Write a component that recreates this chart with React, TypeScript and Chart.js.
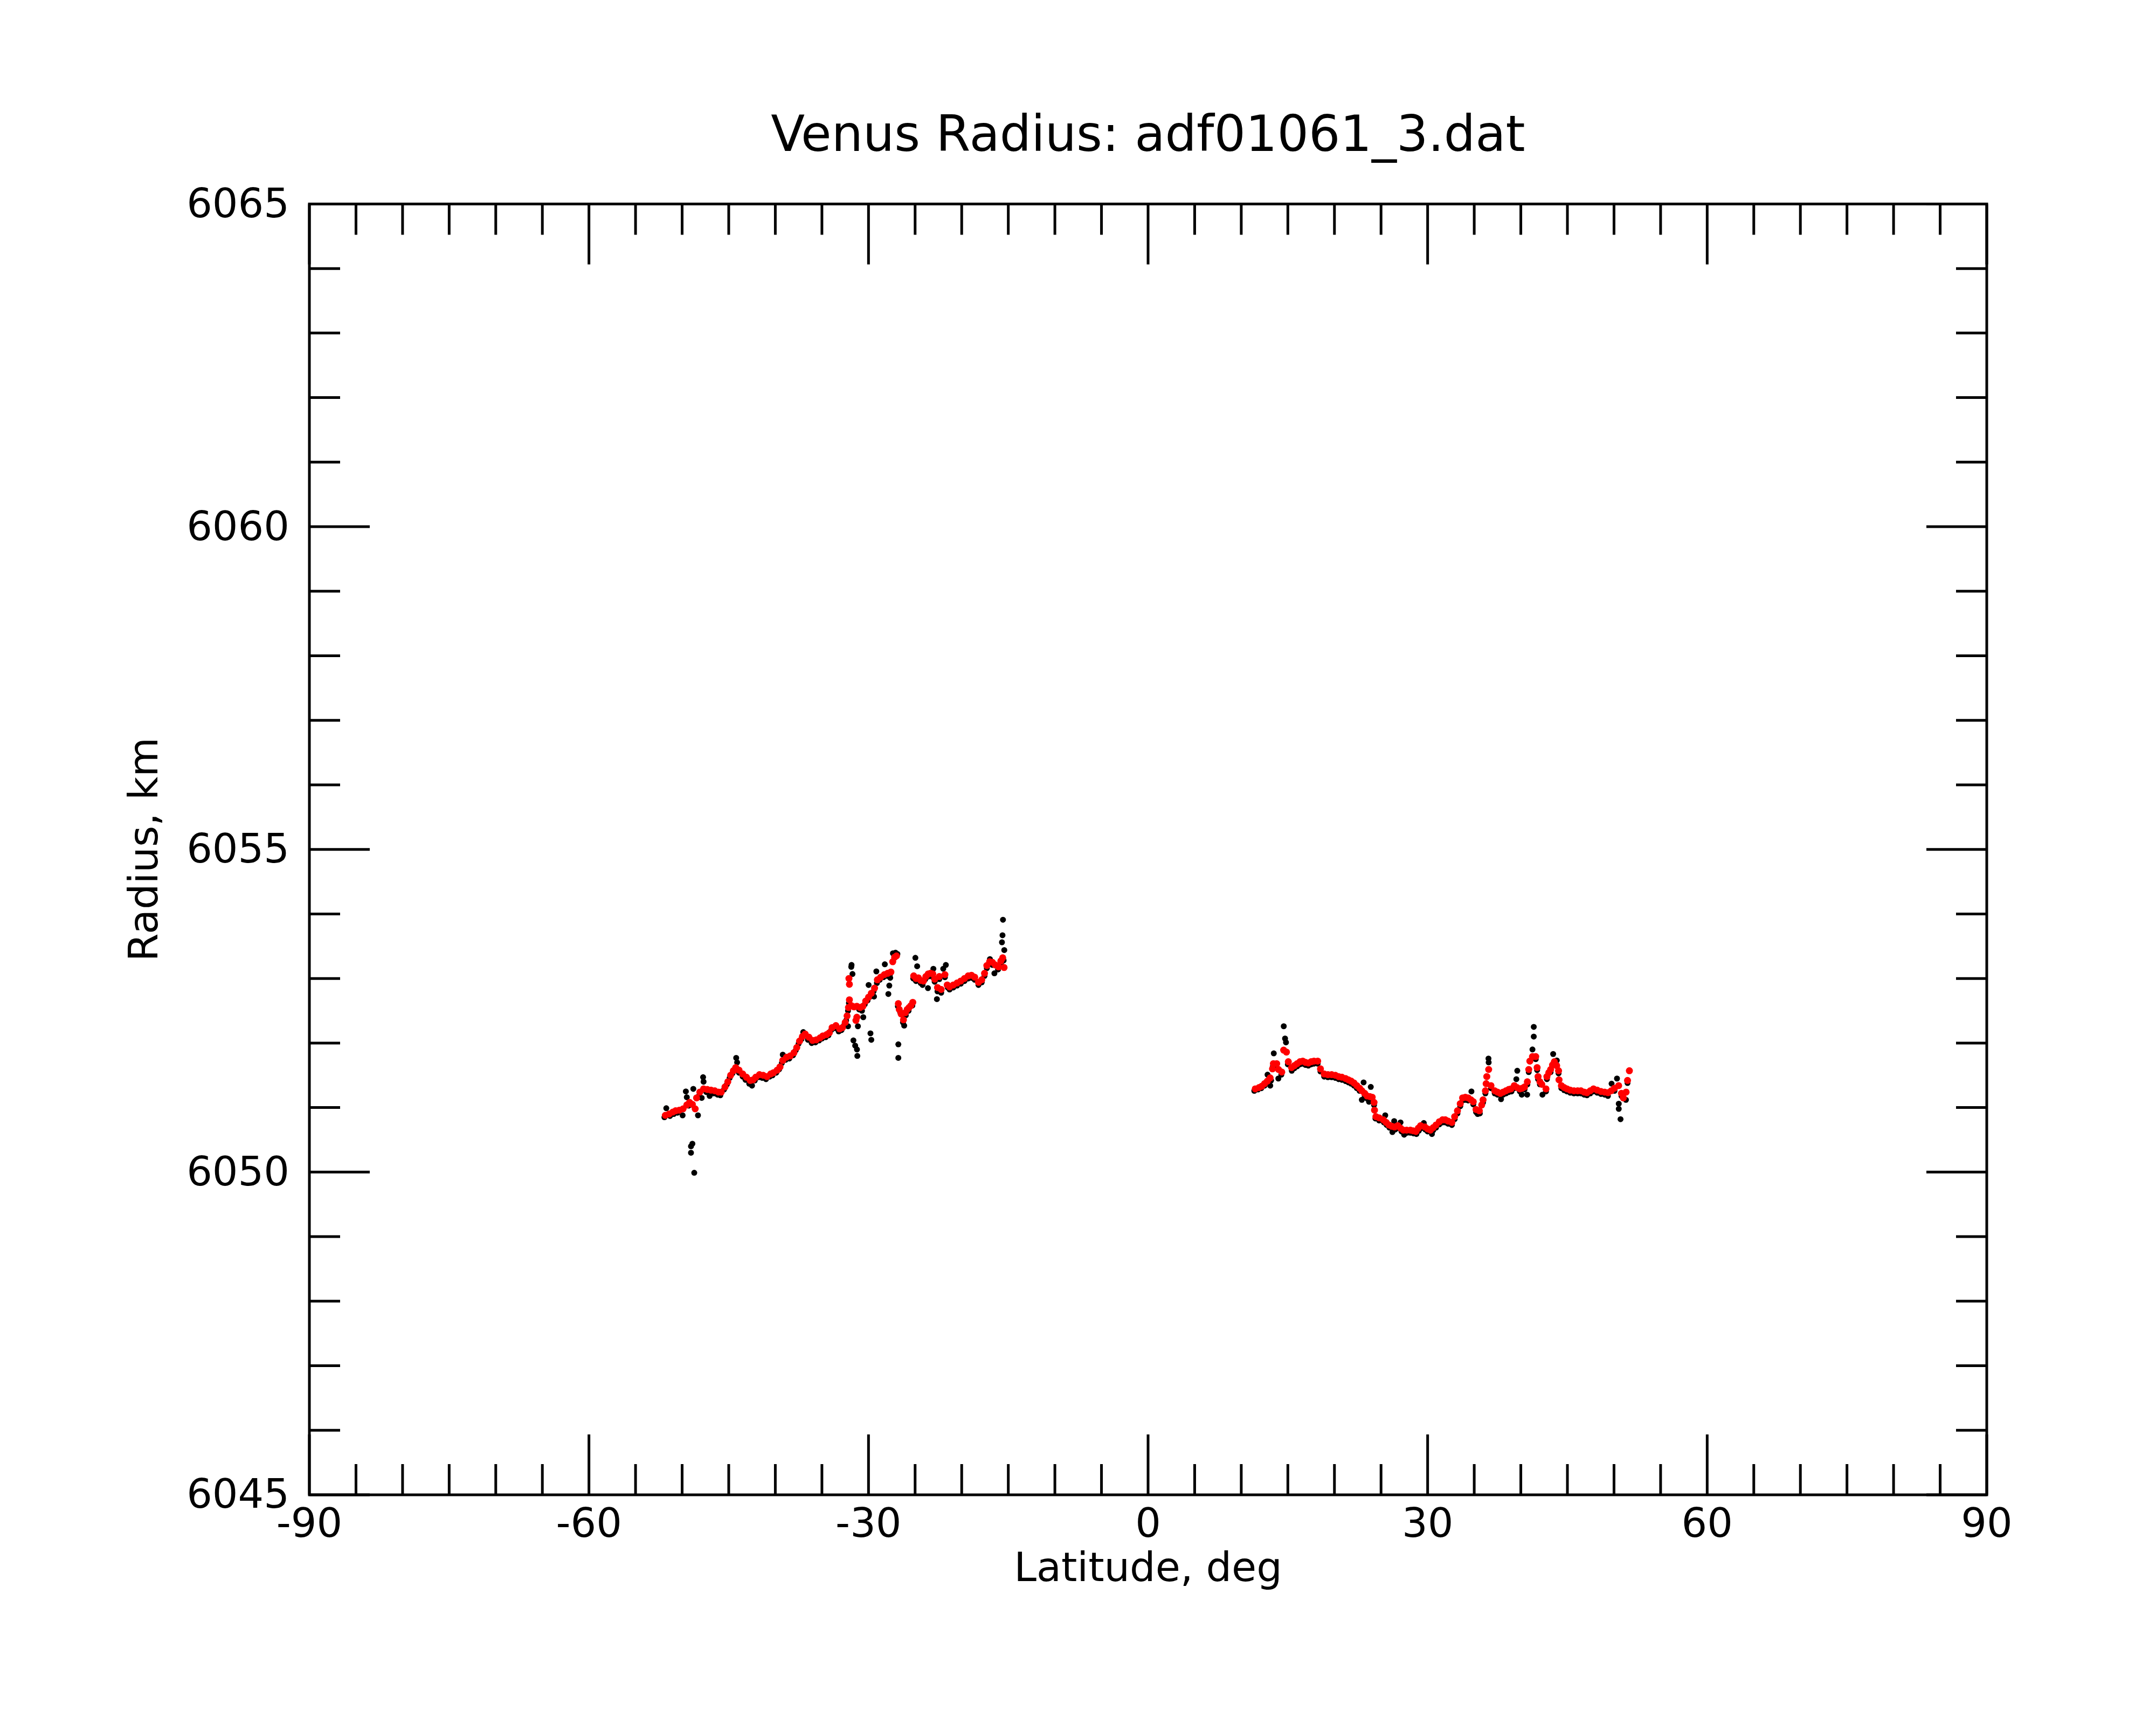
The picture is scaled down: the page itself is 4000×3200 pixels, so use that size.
import { useEffect, useRef } from "react";
import { Chart, registerables } from "chart.js";

Chart.register(...registerables);

const chartTitle = "Venus Radius: adf01061_3.dat";
const xTitle = "Latitude, deg";
const yTitle = "Radius, km";
const latTicks = [-90, -60, -30, 0, 30, 60, 90];
const radTicks = [6045, 6050, 6055, 6060, 6065];
const latMinorStep = 5;
const radMinorStep = 1;

// smoothed radius (red), southern arc: [latitude, radius km]
const smoothSouth: [number, number][] = [
    [-51.8, 6050.88], [-51.4, 6050.90], [-51.0, 6050.93], [-50.7, 6050.95], [-50.3, 6050.96],
    [-49.9, 6050.98], [-49.5, 6051.04], [-49.2, 6051.08], [-48.9, 6051.05], [-48.6, 6050.98],
    [-48.45, 6051.15], [-48.1, 6051.24], [-47.7, 6051.29], [-47.3, 6051.28], [-46.9, 6051.27],
    [-46.5, 6051.26], [-46.1, 6051.24], [-45.8, 6051.24], [-45.4, 6051.32], [-45.1, 6051.40],
    [-44.8, 6051.50], [-44.5, 6051.57], [-44.25, 6051.62], [-43.9, 6051.58], [-43.5, 6051.52],
    [-43.1, 6051.47], [-42.7, 6051.42], [-42.4, 6051.43], [-42.1, 6051.47], [-41.7, 6051.51],
    [-41.3, 6051.50], [-40.9, 6051.48], [-40.5, 6051.52], [-40.2, 6051.54], [-39.8, 6051.58],
    [-39.5, 6051.63], [-39.2, 6051.73], [-38.8, 6051.78], [-38.4, 6051.80], [-38.0, 6051.85],
    [-37.7, 6051.93], [-37.4, 6052.03], [-37.1, 6052.10], [-36.8, 6052.14], [-36.4, 6052.09],
    [-36.0, 6052.04], [-35.6, 6052.05], [-35.2, 6052.08], [-34.9, 6052.11], [-34.5, 6052.13],
    [-34.2, 6052.16], [-33.9, 6052.24], [-33.5, 6052.27], [-33.1, 6052.22], [-32.8, 6052.24],
    [-32.5, 6052.32], [-32.3, 6052.42], [-32.15, 6052.55], [-32.05, 6052.67], [-31.85, 6052.58],
    [-31.55, 6052.56], [-31.25, 6052.57], [-30.9, 6052.55], [-30.6, 6052.57], [-30.3, 6052.65],
    [-30.0, 6052.71], [-29.7, 6052.77], [-29.35, 6052.85], [-29.05, 6052.98], [-28.7, 6053.02],
    [-28.3, 6053.06], [-27.95, 6053.08], [-27.6, 6053.10], [-32.1, 6053.00], [-32.05, 6052.91],
    [-31.35, 6052.35], [-31.25, 6052.40], [-27.4, 6053.26], [-27.2, 6053.33], [-27.0, 6053.35],
    [-26.8, 6052.61], [-26.7, 6052.52], [-26.5, 6052.45], [-26.25, 6052.36], [-26.05, 6052.47],
    [-25.85, 6052.52], [-25.65, 6052.55], [-25.45, 6052.58], [-25.25, 6052.63], [-25.15, 6053.04],
    [-24.9, 6053.00], [-24.65, 6053.01], [-24.4, 6052.97], [-24.1, 6052.96], [-23.85, 6053.03],
    [-23.6, 6053.07], [-23.35, 6053.08], [-23.1, 6053.07], [-22.9, 6052.99], [-22.6, 6052.86],
    [-22.4, 6053.03], [-22.2, 6052.83], [-21.8, 6053.06], [-21.55, 6052.90], [-21.3, 6052.87],
    [-20.9, 6052.90], [-20.5, 6052.93], [-20.1, 6052.96], [-19.7, 6053.00], [-19.3, 6053.04],
    [-18.95, 6053.05], [-18.6, 6053.02], [-18.2, 6052.94], [-17.85, 6052.98], [-17.55, 6053.08],
    [-17.3, 6053.20], [-17.0, 6053.26], [-16.7, 6053.25], [-16.4, 6053.21], [-16.05, 6053.18],
    [-15.8, 6053.27], [-15.6, 6053.32], [-15.45, 6053.17],
];

// smoothed radius (red), northern arc
const smoothNorth: [number, number][] = [
    [11.5, 6051.29], [11.9, 6051.31], [12.2, 6051.33], [12.5, 6051.37], [12.8, 6051.41],
    [13.1, 6051.46], [13.35, 6051.60], [13.45, 6051.68], [13.8, 6051.68], [14.0, 6051.59],
    [14.35, 6051.55], [14.55, 6051.89], [14.85, 6051.86], [15.05, 6051.71], [15.4, 6051.62],
    [15.7, 6051.65], [16.0, 6051.68], [16.3, 6051.71], [16.6, 6051.72], [16.9, 6051.70],
    [17.2, 6051.69], [17.5, 6051.71], [17.8, 6051.72], [18.2, 6051.72], [18.5, 6051.60],
    [18.9, 6051.52], [19.3, 6051.51], [19.7, 6051.51], [20.1, 6051.50], [20.45, 6051.48],
    [20.8, 6051.47], [21.2, 6051.45], [21.5, 6051.43], [21.8, 6051.41], [22.1, 6051.38],
    [22.4, 6051.34], [22.7, 6051.30], [22.95, 6051.26], [23.25, 6051.22], [23.5, 6051.18],
    [23.8, 6051.17], [24.05, 6051.16], [24.25, 6051.08], [24.3, 6050.96], [24.45, 6050.86],
    [24.8, 6050.84], [25.25, 6050.81], [25.55, 6050.77], [25.85, 6050.73], [26.15, 6050.71],
    [26.45, 6050.70], [26.8, 6050.72], [27.1, 6050.68], [27.4, 6050.65], [27.75, 6050.65],
    [28.15, 6050.65], [28.45, 6050.64], [28.75, 6050.63], [29.0, 6050.68], [29.25, 6050.72],
    [29.7, 6050.70], [30.0, 6050.67], [30.3, 6050.65], [30.6, 6050.69], [30.9, 6050.73],
    [31.25, 6050.78], [31.6, 6050.81], [31.9, 6050.81], [32.2, 6050.79], [32.6, 6050.77],
    [32.9, 6050.86], [33.2, 6050.95], [33.5, 6051.06], [33.75, 6051.15], [34.05, 6051.16],
    [34.35, 6051.15], [34.65, 6051.12], [34.9, 6051.09], [35.2, 6050.97], [35.55, 6050.95],
    [35.8, 6051.04], [35.95, 6051.12], [36.2, 6051.26], [36.28, 6051.37], [36.35, 6051.48],
    [36.55, 6051.59], [36.8, 6051.34], [37.2, 6051.26], [37.5, 6051.24], [37.8, 6051.22],
    [38.1, 6051.24], [38.4, 6051.26], [38.7, 6051.28], [38.95, 6051.29], [39.3, 6051.34],
    [39.6, 6051.31], [39.9, 6051.29], [40.15, 6051.30], [40.4, 6051.32], [40.7, 6051.40],
    [40.85, 6051.59], [40.97, 6051.72], [41.25, 6051.79], [41.6, 6051.79], [41.75, 6051.62],
    [41.85, 6051.48], [42.05, 6051.40], [42.25, 6051.36], [42.7, 6051.29], [42.8, 6051.48],
    [43.0, 6051.54], [43.2, 6051.59], [43.4, 6051.66], [43.6, 6051.71], [43.85, 6051.65],
    [44.05, 6051.57], [44.1, 6051.43], [44.35, 6051.34], [44.65, 6051.31], [44.95, 6051.29],
    [45.3, 6051.27], [45.7, 6051.26], [46.1, 6051.26], [46.45, 6051.26], [46.8, 6051.24],
    [47.1, 6051.23], [47.45, 6051.26], [47.8, 6051.29], [48.2, 6051.27], [48.6, 6051.25],
    [49.0, 6051.24], [49.35, 6051.23], [49.7, 6051.26], [50.05, 6051.30], [50.5, 6051.34],
    [50.8, 6051.22], [51.0, 6051.15], [51.3, 6051.24], [51.45, 6051.42], [51.65, 6051.57],
];

// raw radius samples (black), southern arc
const rawSouth: [number, number][] = [
    [-51.9, 6050.85], [-51.7, 6050.99], [-51.3, 6050.87], [-50.9, 6050.90], [-50.5, 6050.92],
    [-49.95, 6050.88], [-49.6, 6051.25], [-49.5, 6051.16], [-49.3, 6051.03], [-49.05, 6050.40],
    [-49.05, 6050.30], [-48.9, 6050.44], [-48.8, 6051.29], [-48.7, 6049.99], [-48.3, 6050.88],
    [-48.2, 6051.18], [-47.9, 6051.15], [-47.75, 6051.47], [-47.7, 6051.40], [-47.4, 6051.24],
    [-47.05, 6051.18], [-46.6, 6051.22], [-46.2, 6051.20], [-45.9, 6051.19], [-45.5, 6051.28],
    [-45.2, 6051.36], [-44.9, 6051.46], [-44.6, 6051.53], [-44.2, 6051.77], [-44.1, 6051.70],
    [-43.9, 6051.54], [-43.5, 6051.48], [-43.2, 6051.43], [-42.8, 6051.37], [-42.5, 6051.34],
    [-42.2, 6051.42], [-41.8, 6051.47], [-41.4, 6051.46], [-41.0, 6051.44], [-40.6, 6051.48],
    [-40.3, 6051.50], [-39.9, 6051.54], [-39.6, 6051.59], [-39.2, 6051.82], [-39.3, 6051.69],
    [-38.9, 6051.74], [-38.5, 6051.76], [-38.1, 6051.81], [-37.8, 6051.89], [-37.5, 6051.99],
    [-37.2, 6052.06], [-37.0, 6052.17], [-36.5, 6052.05], [-36.1, 6052.00], [-35.7, 6052.01],
    [-35.3, 6052.04], [-35.0, 6052.07], [-34.6, 6052.09], [-34.3, 6052.12], [-34.0, 6052.20],
    [-33.6, 6052.23], [-33.2, 6052.18], [-32.9, 6052.20], [-32.6, 6052.28], [-32.4, 6052.35],
    [-32.2, 6052.26], [-32.2, 6052.50], [-32.1, 6052.62], [-31.82, 6053.21], [-31.85, 6053.18],
    [-31.72, 6053.07], [-31.62, 6052.04], [-31.43, 6051.96], [-31.24, 6051.90], [-31.2, 6051.80],
    [-31.14, 6052.26], [-31.0, 6052.52], [-30.7, 6052.50], [-30.56, 6052.40], [-30.4, 6052.60],
    [-30.1, 6052.66], [-29.99, 6052.90], [-29.79, 6052.15], [-29.7, 6052.05], [-29.8, 6052.72],
    [-29.41, 6052.72], [-29.45, 6052.80], [-29.16, 6053.11], [-29.1, 6052.93], [-28.8, 6052.98],
    [-28.4, 6053.02], [-28.25, 6053.22], [-28.0, 6053.04], [-27.87, 6052.76], [-27.77, 6052.89],
    [-27.67, 6053.01], [-27.7, 6053.06], [-27.38, 6053.39], [-27.1, 6053.40], [-26.9, 6053.38],
    [-26.85, 6052.57], [-26.8, 6051.98], [-26.8, 6051.77], [-26.6, 6052.48], [-26.3, 6052.32],
    [-26.17, 6052.27], [-26.0, 6052.43], [-25.7, 6052.50], [-25.3, 6052.58], [-25.2, 6053.00],
    [-24.97, 6053.32], [-24.78, 6053.19], [-24.9, 6052.96], [-24.6, 6052.97], [-24.4, 6052.93],
    [-24.2, 6052.90], [-23.9, 6052.99], [-23.62, 6052.85], [-23.6, 6053.03], [-23.4, 6053.04],
    [-23.04, 6053.15], [-23.1, 6053.02], [-22.9, 6052.95], [-22.66, 6052.68], [-22.6, 6052.80],
    [-22.4, 6052.99], [-22.2, 6052.78], [-21.98, 6053.15], [-21.7, 6053.21], [-21.8, 6053.02],
    [-21.5, 6052.86], [-21.3, 6052.83], [-20.9, 6052.86], [-20.5, 6052.89], [-20.1, 6052.92],
    [-19.7, 6052.96], [-19.3, 6053.00], [-18.95, 6053.01], [-18.6, 6052.98], [-18.2, 6052.90],
    [-17.85, 6052.94], [-17.55, 6053.04], [-17.3, 6053.16], [-16.97, 6053.30], [-16.7, 6053.21],
    [-16.49, 6053.08], [-16.1, 6053.14], [-15.8, 6053.23], [-15.68, 6053.56], [-15.62, 6053.67],
    [-15.57, 6053.91], [-15.43, 6053.44], [-15.5, 6053.28],
];

// raw radius samples (black), northern arc
const rawNorth: [number, number][] = [
    [11.4, 6051.26], [11.8, 6051.28], [12.15, 6051.30], [12.5, 6051.34], [12.82, 6051.51],
    [13.11, 6051.34], [13.2, 6051.42], [13.49, 6051.84], [13.4, 6051.64], [13.75, 6051.64],
    [13.98, 6051.45], [14.3, 6051.51], [14.56, 6052.26], [14.7, 6052.07], [14.8, 6052.01],
    [15.0, 6051.67], [15.42, 6051.57], [15.7, 6051.61], [16.0, 6051.64], [16.3, 6051.67],
    [16.6, 6051.68], [16.9, 6051.66], [17.2, 6051.65], [17.5, 6051.67], [17.8, 6051.68],
    [18.2, 6051.68], [18.5, 6051.56], [18.9, 6051.48], [19.3, 6051.47], [19.7, 6051.47],
    [20.1, 6051.46], [20.45, 6051.44], [20.8, 6051.43], [21.2, 6051.41], [21.5, 6051.39],
    [21.8, 6051.37], [22.1, 6051.34], [22.4, 6051.30], [22.7, 6051.26], [22.94, 6051.12],
    [23.13, 6051.39], [23.25, 6051.18], [23.5, 6051.14], [23.71, 6051.09], [23.9, 6051.32],
    [24.05, 6051.12], [24.25, 6051.04], [24.4, 6050.83], [24.8, 6050.80], [25.45, 6050.88],
    [25.3, 6050.77], [25.6, 6050.73], [25.9, 6050.69], [26.22, 6050.62], [26.41, 6050.79],
    [26.5, 6050.66], [26.8, 6050.68], [27.09, 6050.77], [27.2, 6050.63], [27.48, 6050.58],
    [27.8, 6050.61], [28.15, 6050.61], [28.5, 6050.60], [28.8, 6050.59], [29.05, 6050.64],
    [29.3, 6050.68], [29.59, 6050.76], [29.75, 6050.66], [30.0, 6050.63], [30.46, 6050.59],
    [30.6, 6050.65], [30.9, 6050.69], [31.25, 6050.74], [31.6, 6050.77], [31.9, 6050.77],
    [32.2, 6050.75], [32.6, 6050.73], [32.9, 6050.82], [33.2, 6050.91], [33.5, 6051.02],
    [33.75, 6051.11], [34.05, 6051.12], [34.35, 6051.11], [34.7, 6051.25], [34.9, 6051.05],
    [35.2, 6050.93], [35.37, 6050.90], [35.6, 6050.91], [35.95, 6051.08], [36.2, 6051.22],
    [36.53, 6051.76], [36.55, 6051.70], [36.8, 6051.30], [37.2, 6051.22], [37.5, 6051.20],
    [37.88, 6051.13], [38.1, 6051.20], [38.4, 6051.22], [38.7, 6051.24], [39.0, 6051.25],
    [39.3, 6051.30], [39.52, 6051.44], [39.62, 6051.57], [39.9, 6051.25], [40.1, 6051.20],
    [40.4, 6051.28], [40.68, 6051.20], [40.7, 6051.36], [40.85, 6051.55], [41.25, 6051.90],
    [41.39, 6052.10], [41.39, 6052.25], [41.6, 6051.75], [41.75, 6051.58], [41.85, 6051.44],
    [42.05, 6051.36], [42.32, 6051.20], [42.7, 6051.25], [42.8, 6051.44], [43.2, 6051.55],
    [43.47, 6051.83], [43.6, 6051.67], [43.86, 6051.73], [44.05, 6051.53], [44.35, 6051.30],
    [44.65, 6051.27], [44.95, 6051.25], [45.3, 6051.23], [45.7, 6051.22], [46.1, 6051.22],
    [46.45, 6051.22], [46.8, 6051.20], [47.1, 6051.19], [47.45, 6051.22], [47.8, 6051.25],
    [48.2, 6051.23], [48.6, 6051.21], [49.0, 6051.20], [49.35, 6051.18], [49.74, 6051.37],
    [50.05, 6051.26], [50.32, 6051.45], [50.51, 6051.06], [50.51, 6050.98], [50.7, 6050.82],
    [50.8, 6051.18], [51.28, 6051.12], [51.45, 6051.38],
];

const FONT = "DejaVu Sans";

const toPoints = (rows: [number, number][]) => rows.map(([x, y]) => ({ x, y }));

// inward tick marks on all four sides plus the box around the plot
const frameTicks = {
    id: "frameTicks",
    afterDraw(chart: any) {
        const { ctx, chartArea: a, scales } = chart;
        const xs = scales.x;
        const ys = scales.y;
        const major = 112;
        const minor = 57;
        ctx.save();
        ctx.strokeStyle = "#000";
        ctx.lineWidth = 5;
        ctx.beginPath();
        for (let v = xs.min; v <= xs.max; v += latMinorStep) {
            const px = xs.getPixelForValue(v);
            const len = latTicks.includes(v) ? major : minor;
            ctx.moveTo(px, a.bottom);
            ctx.lineTo(px, a.bottom - len);
            ctx.moveTo(px, a.top);
            ctx.lineTo(px, a.top + len);
        }
        for (let v = ys.min; v <= ys.max; v += radMinorStep) {
            const py = ys.getPixelForValue(v);
            const len = radTicks.includes(v) ? major : minor;
            ctx.moveTo(a.left, py);
            ctx.lineTo(a.left + len, py);
            ctx.moveTo(a.right, py);
            ctx.lineTo(a.right - len, py);
        }
        ctx.stroke();
        ctx.strokeRect(a.left, a.top, a.right - a.left, a.bottom - a.top);
        ctx.restore();
    },
};

export default function App() {
    const chartRef = useRef<HTMLCanvasElement>(null);
    const chartInstanceRef = useRef<Chart | null>(null);

    useEffect(() => {
        const ctx = chartRef.current?.getContext("2d");
        if (!ctx) return;
        const tickFont = { family: FONT, size: 75, weight: "normal" as const, lineHeight: 1.2 };
        chartInstanceRef.current = new Chart(ctx, {
            type: "scatter",
            data: {
                datasets: [
                    {
                        label: "smoothed",
                        data: [...toPoints(smoothSouth), ...toPoints(smoothNorth)],
                        backgroundColor: "#ff0000",
                        borderWidth: 0,
                        pointRadius: 6.5,
                    },
                    {
                        label: "raw",
                        data: [...toPoints(rawSouth), ...toPoints(rawNorth)],
                        backgroundColor: "#000000",
                        borderWidth: 0,
                        pointRadius: 5.5,
                    },
                ],
            },
            options: {
                responsive: false,
                animation: false,
                devicePixelRatio: 1,
                layout: { padding: { left: 0, right: 314, top: 0, bottom: 0 } },
                plugins: {
                    legend: { display: false },
                    tooltip: { enabled: false },
                    title: {
                        display: true,
                        text: chartTitle,
                        color: "#000",
                        fullSize: false,
                        font: { family: FONT, size: 92, weight: "normal", lineHeight: 1.2 },
                        padding: { top: 201, bottom: 67 },
                    },
                },
                scales: {
                    x: {
                        type: "linear",
                        min: -90,
                        max: 90,
                        afterBuildTicks: (s: any) => {
                            s.ticks = latTicks.map((value) => ({ value }));
                        },
                        afterFit: (s: any) => {
                            s.height = 427;
                        },
                        grid: { display: false, drawTicks: false },
                        border: { display: false },
                        ticks: {
                            color: "#000",
                            font: tickFont,
                            padding: 14,
                            maxRotation: 0,
                            autoSkip: false,
                            callback: (v: any) => String(v),
                        },
                        title: {
                            display: true,
                            text: xTitle,
                            color: "#000",
                            font: tickFont,
                            padding: { top: 0, bottom: 241 },
                        },
                    },
                    y: {
                        type: "linear",
                        min: 6045,
                        max: 6065,
                        afterBuildTicks: (s: any) => {
                            s.ticks = radTicks.map((value) => ({ value }));
                        },
                        afterFit: (s: any) => {
                            s.width = 574;
                        },
                        grid: { display: false, drawTicks: false },
                        border: { display: false },
                        ticks: {
                            color: "#000",
                            font: tickFont,
                            padding: 37,
                            labelOffset: 5,
                            autoSkip: false,
                            callback: (v: any) => String(v),
                        },
                        title: {
                            display: true,
                            text: yTitle,
                            color: "#000",
                            font: tickFont,
                            padding: { top: 228, bottom: 0 },
                        },
                    },
                },
            },
            plugins: [frameTicks],
        });
        return () => {
            if (chartInstanceRef.current) {
                chartInstanceRef.current.destroy();
                chartInstanceRef.current = null;
            }
        };
    }, []);

    return (
        <div style={{ position: "absolute", left: 0, top: 0, width: 4000, height: 3200, background: "#fff" }}>
            <canvas ref={chartRef} width={4000} height={3200} style={{ display: "block" }} />
        </div>
    );
}
